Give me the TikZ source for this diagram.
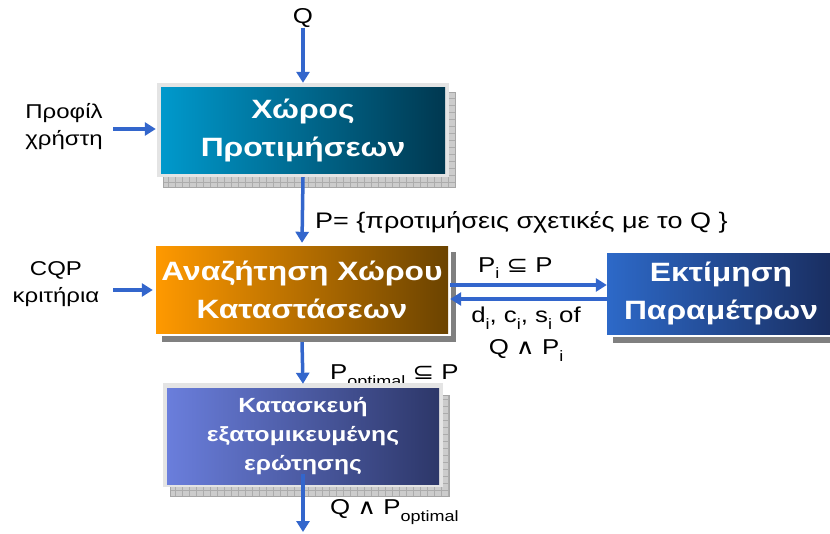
\documentclass[tikz,border=0pt]{standalone}
\usepackage{fontspec}
\setmainfont[FakeStretch=1.2]{Liberation Sans}
\newfontfamily\symf[FakeStretch=1.2]{DejaVu Sans}
\usetikzlibrary{arrows.meta}
\definecolor{arrblue}{RGB}{51,102,204}
\definecolor{aL}{RGB}{0,153,204}\definecolor{aR}{RGB}{0,56,80}
\definecolor{bL}{RGB}{255,153,0}\definecolor{bR}{RGB}{107,67,0}
\definecolor{cL}{RGB}{45,105,200}\definecolor{cR}{RGB}{25,45,95}
\definecolor{dL}{RGB}{106,126,220}\definecolor{dR}{RGB}{45,55,105}
\definecolor{frameg}{RGB}{228,228,228}
\definecolor{shadg}{RGB}{128,128,128}
\newcommand{\lowi}[1]{\raisebox{-0.3em}{\fontsize{15}{15}\selectfont #1}}
\tikzset{
  arr/.style={draw=arrblue, line width=3.5pt, -{Triangle[length=11pt,width=13pt]}},
  lbl/.style={font=\fontsize{21.5}{26}\selectfont, inner sep=0pt, align=center},
  sidelbl/.style={font=\fontsize{20}{27}\selectfont, inner sep=0pt, align=center},
  boxtxt/.style={text=white, font=\bfseries\fontsize{26.5}{38}\selectfont, align=center, inner sep=0pt},
  gridshadow/.style={fill=gray!40},
  gridlines/.style={draw=gray!65, line width=0.5pt}
}
\begin{document}
\begin{tikzpicture}[x=1pt,y=-1pt]
\clip (0,0) rectangle (830,533);
\fill[white] (0,0) rectangle (830,533);
% box 1 shadow and frame
\fill[gridshadow] (163,92) rectangle (455,187);
\draw[gridlines, step=7pt] (163,92) grid (455,187);
\draw[gray!70, line width=0.8pt] (163,92) rectangle (455,187);
\fill[frameg] (157,83) rectangle (449,177);
% box 2 shadow and frame
\fill[shadg] (162,252) rectangle (456,342);
\fill[white] (153,243) rectangle (451,336);
% box 3 shadow and frame
\fill[shadg] (613,260) rectangle (840,343);
\fill[white] (604,250) rectangle (840,337);
% label partly hidden by box 4
\node[lbl, anchor=west] (popt) at (330,377) {P\lowi{optimal} {\symf ⊆} P};
% box 4 shadow and frame
\fill[gridshadow] (170,395) rectangle (449,496);
\draw[gridlines, step=7pt] (170,395) grid (449,496);
\draw[gray!70, line width=0.8pt] (170,395) rectangle (449,496);
\fill[frameg] (163,383) rectangle (443,487);

% boxes
\node[boxtxt, left color=aL, right color=aR, minimum width=284pt, minimum height=86pt] (b1) at (303,130) {Χώρος\\Προτιμήσεων};
\node[boxtxt, left color=bL, right color=bR, minimum width=292pt, minimum height=87pt] (b2) at (302,289.5) {Αναζήτηση Χώρου\\Καταστάσεων};
\node[boxtxt, left color=cL, right color=cR, minimum width=228pt, minimum height=81pt] (b3) at (721,293.5) {Εκτίμηση\\Παραμέτρων};
\node[boxtxt, font=\bfseries\fontsize{20.5}{29}\selectfont, left color=dL, right color=dR, minimum width=272pt, minimum height=96pt] (b4) at (303,436) {Κατασκευή\\εξατομικευμένης\\ερώτησης};

% texts
\node[lbl] (q) at (303,18) {Q};
\node[sidelbl] (prof) at (64,127) {Προφίλ\\χρήστη};
\node[sidelbl] (cqp) at (56,284) {CQP\\κριτήρια};
\node[lbl, anchor=west, font=\fontsize{22.5}{26}\selectfont] (pset) at (315,222) {P= \{προτιμήσεις σχετικές με το Q \}};
\node[lbl, anchor=west] (pi) at (478,268) {P\lowi{i} {\symf ⊆} P};
\node[lbl, align=center, font=\fontsize{21.5}{32}\selectfont] (dcs) at (526,334) {d\lowi{i}, c\lowi{i}, s\lowi{i} of\\Q {\symf ∧} P\lowi{i}};
\node[lbl, anchor=west] (qopt) at (330,512) {Q {\symf ∧} P\lowi{optimal}};
\coordinate (out) at (303,532);

% connectors
\draw[arr] (q) -- ([yshift=4pt]b1.north);
\draw[arr] ([yshift=-4pt]b1.south) -- ([yshift=3pt]b2.north);
\draw[arr] ([yshift=-9pt]b2.south) -- ([yshift=4pt]b4.north);
\draw[arr] ([yshift=10pt]b4.south) -- (out);
\draw[arr] (113,129) -- ([xshift=-5pt]b1.west |- 0,129);
\draw[arr] (113,290) -- ([xshift=-3pt]b2.west |- 0,290);
\draw[arr] ([xshift=2pt]b2.east |- 0,285) -- (b3.west |- 0,285);
\draw[arr] (b3.west |- 0,299) -- ([xshift=2pt]b2.east |- 0,299);
\end{tikzpicture}
\end{document}
